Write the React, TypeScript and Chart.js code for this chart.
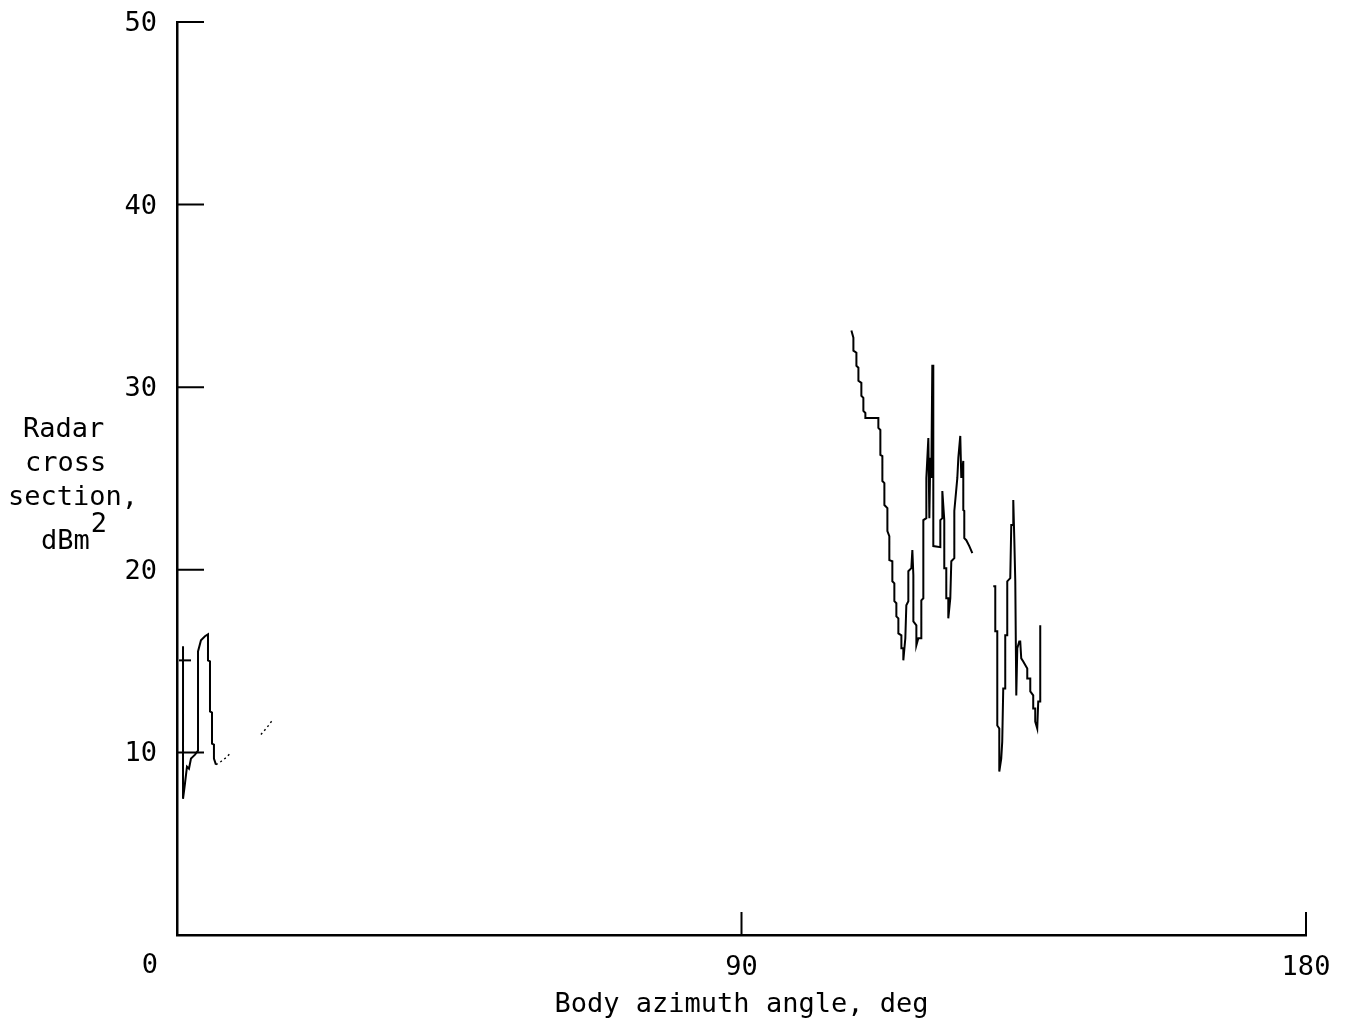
import { useEffect, useRef } from "react";
import { Chart, registerables } from "chart.js";

Chart.register(...registerables);

const FONT_FAMILY = "'DejaVu Sans Mono', 'Liberation Mono', monospace";
const FONT_SIZE = 27;

// Axis ticks (deg and dBm^2)
const X_TICKS = [90, 180];
const Y_TICKS = [10, 20, 30, 40, 50];
const X_TITLE = "Body azimuth angle, deg";
const Y_TITLE_LINES = ["Radar", "cross", "section,"];
const Y_TITLE_UNIT = "dBm";
const Y_TITLE_EXP = "2";

// Nose-on return, 0 to 6 deg
const noseAngle = [0.96, 0.96, 1.27, 1.59, 1.91, 2.23, 2.55, 2.87, 3.35, 3.35, 3.82, 4.46, 4.94, 4.94, 5.26, 5.26, 5.58, 5.58, 5.89, 5.89, 6.21];
const noseRcs = [15.81, 7.46, 8.29, 9.22, 9.11, 9.66, 9.77, 9.88, 10.1, 15.53, 16.14, 16.36, 16.47, 15.04, 14.98, 12.24, 12.18, 10.48, 10.43, 9.66, 9.33];

// Short level run near 15 dBm^2
const stepAngle = [0.32, 2.23];
const stepRcs = [15.04, 15.04];

// Faint trailing returns after the nose lobe
const tailAngle = [6.21, 7.01, 7.81, 8.6];
const tailRcs = [9.33, 9.5, 9.71, 9.99];
const farAngle = [13.38, 14.34, 15.29];
const farRcs = [10.98, 11.36, 11.8];

// Broadside lobe, 107 to 127 deg
const lobeAngle = [107.52, 107.84, 107.84, 108.32, 108.32, 108.64, 108.64, 109.11, 109.11, 109.43, 109.43, 109.75, 109.75, 111.82, 111.82, 112.14, 112.14, 112.46, 112.46, 112.78, 112.78, 113.26, 113.26, 113.57, 113.57, 114.05, 114.05, 114.37, 114.37, 114.69, 114.69, 115.01, 115.01, 115.49, 115.49, 115.8, 115.8, 116.12, 116.28, 116.6, 116.6, 117.08, 117.24, 117.4, 117.4, 117.88, 117.88, 118.19, 118.67, 118.67, 118.99, 118.99, 119.47, 119.47, 119.79, 119.95, 120.1, 120.26, 120.42, 120.58, 120.58, 121.7, 121.7, 122.02, 122.02, 122.33, 122.33, 122.65, 122.65, 122.97, 122.97, 123.29, 123.45, 123.93, 123.93, 124.41, 124.57, 124.88, 125.04, 125.36, 125.36, 125.52, 125.52, 125.84, 126.32, 126.8];
const lobeRcs = [33.1, 32.71, 32.0, 31.89, 31.17, 31.07, 30.35, 30.24, 29.53, 29.42, 28.7, 28.59, 28.32, 28.32, 27.77, 27.66, 26.29, 26.23, 24.86, 24.75, 23.55, 23.38, 22.12, 21.84, 20.53, 20.47, 19.37, 19.26, 18.28, 18.17, 17.45, 17.34, 16.52, 16.41, 15.7, 15.7, 15.04, 16.25, 18.06, 18.28, 19.92, 20.09, 21.08, 19.7, 17.18, 16.96, 15.86, 16.25, 16.25, 18.33, 18.44, 22.72, 22.83, 25.03, 27.22, 22.83, 26.13, 25.03, 31.17, 31.17, 21.3, 21.24, 22.72, 22.83, 24.31, 22.72, 20.09, 20.09, 18.44, 18.44, 17.34, 18.44, 20.47, 20.64, 23.22, 25.03, 26.13, 27.33, 25.03, 25.96, 23.27, 23.22, 21.73, 21.62, 21.3, 20.91];

// Aft lobe, 130 to 138 deg
const aftAngle = [130.14, 130.46, 130.46, 130.78, 130.78, 131.1, 131.1, 131.41, 131.57, 131.73, 132.05, 132.05, 132.37, 132.37, 132.85, 133.01, 133.33, 133.33, 133.49, 133.65, 133.81, 133.97, 134.28, 134.44, 134.6, 134.92, 135.56, 135.56, 136.04, 136.04, 136.51, 136.51, 136.83, 136.83, 137.15, 137.31, 137.63, 137.63];
const aftRcs = [19.1, 19.1, 16.63, 16.63, 11.47, 11.31, 8.95, 9.66, 10.59, 13.5, 13.5, 16.41, 16.41, 19.37, 19.54, 22.45, 22.45, 23.82, 21.73, 19.37, 13.12, 15.7, 16.08, 16.08, 15.15, 14.98, 14.6, 14.05, 14.05, 13.34, 13.12, 12.4, 12.4, 11.69, 11.31, 12.79, 12.79, 16.96];

const toPoints = (xs: number[], ys: number[]) => xs.map((x, i) => ({ x, y: ys[i] }));

const trace = (xs: number[], ys: number[], dashed = false) => ({
  data: toPoints(xs, ys),
  borderColor: "#000",
  borderWidth: dashed ? 1.4 : 2,
  borderDash: dashed ? [2, 3] : [],
  pointRadius: 0,
  tension: 0,
  fill: false,
});

// Inward tick marks, the stacked y title and the shared origin label
const decorations = {
  id: "decorations",
  afterDraw(chart: any) {
    const { ctx, chartArea, scales } = chart;
    const xs = scales.x;
    const ys = scales.y;
    ctx.save();
    ctx.strokeStyle = "#000";
    ctx.lineWidth = 2;
    ctx.beginPath();
    Y_TICKS.forEach((v) => {
      const py = ys.getPixelForValue(v);
      ctx.moveTo(chartArea.left, py);
      ctx.lineTo(chartArea.left + 27, py);
    });
    X_TICKS.forEach((v) => {
      const px = xs.getPixelForValue(v);
      ctx.moveTo(px, chartArea.bottom);
      ctx.lineTo(px, chartArea.bottom - 23);
    });
    ctx.stroke();

    ctx.fillStyle = "#000";
    ctx.font = `${FONT_SIZE}px ${FONT_FAMILY}`;
    ctx.textBaseline = "alphabetic";
    ctx.textAlign = "left";
    const lineX = [23, 25, 8];
    const lineY = [437, 471, 505];
    Y_TITLE_LINES.forEach((t, i) => ctx.fillText(t, lineX[i], lineY[i]));
    ctx.fillText(Y_TITLE_UNIT, 41, 549);
    const unitW = ctx.measureText(Y_TITLE_UNIT).width;
    ctx.fillText(Y_TITLE_EXP, 41 + unitW + 1, 532);

    ctx.textAlign = "center";
    ctx.textBaseline = "middle";
    ctx.fillText("0", xs.getPixelForValue(0) - 27, ys.getPixelForValue(0) + 31);
    ctx.restore();
  },
};

export default function App() {
  const canvasRef = useRef<HTMLCanvasElement | null>(null);

  useEffect(() => {
    const canvas = canvasRef.current;
    if (!canvas) return;
    const tickFont = { family: FONT_FAMILY, size: FONT_SIZE };
    const chart = new Chart(canvas, {
      type: "line",
      data: {
        datasets: [
          trace(noseAngle, noseRcs),
          trace(stepAngle, stepRcs),
          trace(tailAngle, tailRcs, true),
          trace(farAngle, farRcs, true),
          trace(lobeAngle, lobeRcs),
          trace(aftAngle, aftRcs),
        ] as any,
      },
      options: {
        animation: false,
        responsive: false,
        events: [],
        layout: { padding: { top: 22, right: 44, left: 0, bottom: 0 } },
        plugins: { legend: { display: false }, tooltip: { enabled: false } },
        scales: {
          x: {
            type: "linear",
            min: 0,
            max: 180,
            afterFit: (s: any) => {
              s.height = 95;
              s.paddingLeft = 0;
              s.paddingRight = 0;
            },
            grid: { display: false, drawTicks: false },
            border: { display: true, color: "#000", width: 2.5 },
            ticks: {
              stepSize: 90,
              padding: 17,
              color: "#000",
              font: tickFont,
              maxRotation: 0,
              callback: (v: any) => (Number(v) === 0 ? "" : String(v)),
            },
            title: {
              display: true,
              text: X_TITLE,
              color: "#000",
              font: tickFont,
              padding: { top: 0, bottom: 9 },
            },
          },
          y: {
            type: "linear",
            min: 0,
            max: 50,
            afterFit: (s: any) => {
              s.width = 177;
              s.paddingTop = 0;
              s.paddingBottom = 0;
            },
            grid: { display: false, drawTicks: false },
            border: { display: true, color: "#000", width: 2.5 },
            ticks: {
              stepSize: 10,
              padding: 20,
              labelOffset: 2,
              color: "#000",
              font: tickFont,
              callback: (v: any) => (Number(v) === 0 ? "" : String(v)),
            },
          },
        },
      },
      plugins: [decorations],
    });
    return () => chart.destroy();
  }, []);

  return (
    <div style={{ position: "absolute", left: 0, top: 0, width: 1350, height: 1030, background: "#fff" }}>
      <canvas ref={canvasRef} width={1350} height={1030} />
    </div>
  );
}
